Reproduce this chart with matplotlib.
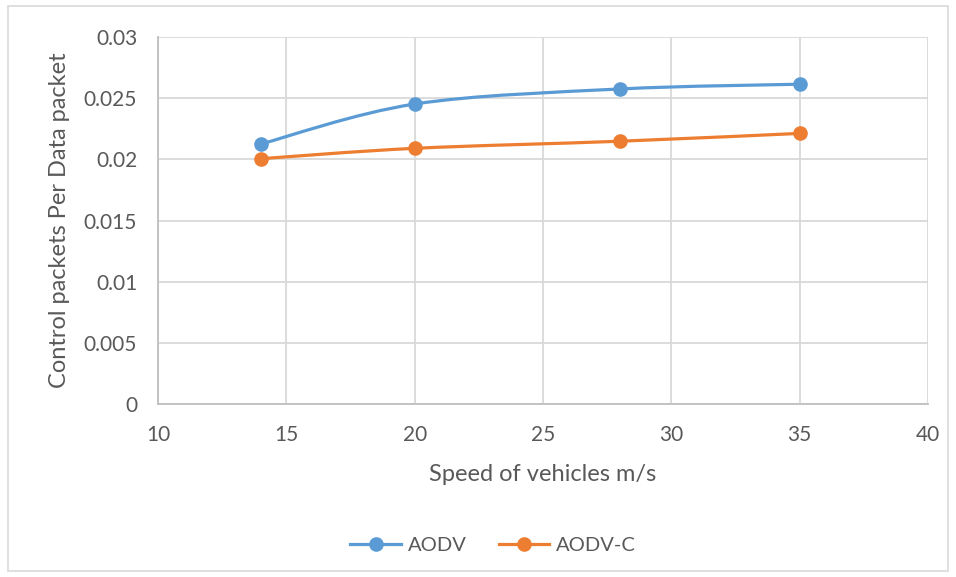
import numpy as np
import matplotlib
matplotlib.use('Agg')
import matplotlib.pyplot as plt
from matplotlib.path import Path
from matplotlib.patches import PathPatch, Rectangle
from matplotlib.lines import Line2D

speed = [14, 20, 28, 35]
aodv = [0.02125, 0.02452, 0.02575, 0.02614]
aodv_c = [0.02005, 0.02090, 0.02148, 0.02212]

blue = '#5B9BD5'
orange = '#ED7D31'
grey_txt = '#595959'
grid_c = '#D9D9D9'

plt.rcParams['font.family'] = ['Lato', 'DejaVu Sans']


def smooth_path(xs, ys, t=1/6):
    # Excel-like smoothed line: Catmull-Rom turned into cubic Bezier segments
    pts = list(zip(xs, ys))
    verts = [pts[0]]
    codes = [Path.MOVETO]
    for i in range(len(pts) - 1):
        p0 = pts[i - 1] if i > 0 else pts[i]
        p1 = pts[i]
        p2 = pts[i + 1]
        p3 = pts[i + 2] if i + 2 < len(pts) else pts[i + 1]
        c1 = (p1[0] + (p2[0] - p0[0]) * t, p1[1] + (p2[1] - p0[1]) * t)
        c2 = (p2[0] - (p3[0] - p1[0]) * t, p2[1] - (p3[1] - p1[1]) * t)
        verts += [c1, c2, p2]
        codes += [Path.CURVE4] * 3
    return Path(verts, codes)


fig = plt.figure(figsize=(9.56, 5.77), dpi=100)
fig.patches.append(Rectangle((0.008, 0.01), 0.984, 0.98, transform=fig.transFigure,
                             fill=False, edgecolor='#D9D9D9', lw=1.2))
ax = fig.add_axes([0.1653, 0.2998, 0.8054, 0.6361])

for ys, c in [(aodv, blue), (aodv_c, orange)]:
    ax.add_patch(PathPatch(smooth_path(speed, ys), fill=False, edgecolor=c, lw=2.3,
                           capstyle='round', zorder=3))
    ax.plot(speed, ys, ls='None', color=c, marker='o', ms=9.5, zorder=4)

ax.set_xlim(10, 40)
ax.set_ylim(0, 0.03)
ax.set_xticks(range(10, 41, 5))
ax.set_yticks([0, 0.005, 0.01, 0.015, 0.02, 0.025, 0.03])
ax.set_yticklabels(['0', '0.005', '0.01', '0.015', '0.02', '0.025', '0.03'])
ax.grid(True, color=grid_c, lw=1.3)
ax.set_axisbelow(True)
for s in ['top', 'right']:
    ax.spines[s].set_visible(False)
for s in ['left', 'bottom']:
    ax.spines[s].set_color('#BFBFBF')
    ax.spines[s].set_linewidth(1.3)
ax.tick_params(length=0, labelsize=15, labelcolor=grey_txt)
ax.tick_params(axis='y', pad=15)
ax.tick_params(axis='x', pad=15)
ax.set_xlabel('Speed of vehicles m/s', fontsize=17, color=grey_txt, labelpad=14)
ax.set_ylabel('Control packets Per Data packet', fontsize=17, color=grey_txt, labelpad=10)

handles = [Line2D([], [], color=blue, lw=2.3, marker='o', ms=9.5),
           Line2D([], [], color=orange, lw=2.3, marker='o', ms=9.5)]
fig.legend(handles, ['AODV', 'AODV-C'], loc='center', bbox_to_anchor=(0.516, 0.055),
           ncol=2, frameon=False, fontsize=14.5, labelcolor=grey_txt,
           handlelength=2.5, columnspacing=1.6, handletextpad=0.35)

fig.savefig('out.png', dpi=100)
